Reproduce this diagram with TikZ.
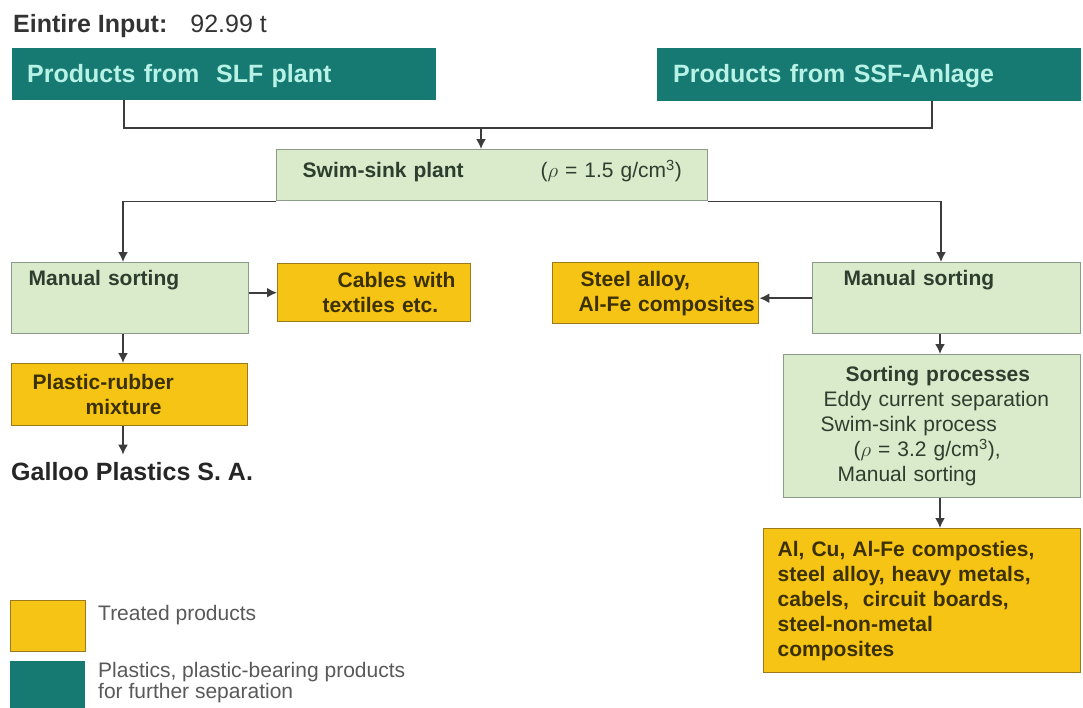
\documentclass[tikz,border=0pt]{standalone}
\usepackage{fontspec}
\setmainfont{Liberation Sans}
\usetikzlibrary{arrows.meta}
\definecolor{tealbg}{HTML}{177A72}
\definecolor{tealtext}{HTML}{B8F2E6}
\definecolor{treated}{HTML}{F6C414}
\definecolor{treatedline}{HTML}{9A7A1A}
\definecolor{treatedtext}{HTML}{3B3000}
\definecolor{sortbg}{HTML}{D9EBCB}
\definecolor{sortline}{HTML}{8C9C8A}
\definecolor{sorttext}{HTML}{2E3E2E}
\definecolor{flow}{HTML}{3C3C3C}

\begin{document}
\begin{tikzpicture}[
    x=1pt, y=-1pt,
    >={Latex[length=10pt,width=10pt]},
        every node/.style={font=\fontsize{21}{25}\selectfont},
    titlefont/.style={font=\fontsize{25}{30}\selectfont\bfseries},
    srcbox/.style={fill=tealbg, text=tealtext, titlefont, anchor=north west, inner ysep=0pt, align=left},
    sortbox/.style={draw=sortline, line width=1.4pt, fill=sortbg, text=sorttext, anchor=north west, align=left},
    prodbox/.style={draw=treatedline, line width=1.4pt, fill=treated, text=treatedtext, font=\fontsize{21}{25}\selectfont\bfseries, anchor=north west, align=left},
    flowline/.style={draw=flow, line width=1.8pt}
]
    \fill[white] (0,0) rectangle (1083,707);
    \useasboundingbox (0,0) rectangle (1083,707);

    % Input and source plants
        \node[anchor=base west, inner sep=0pt, text=black!80, font=\fontsize{25}{30}\selectfont] (input) at (13,32) {\textbf{Eintire Input:}\hspace{23pt}92.99 t};
        \node[srcbox, text width=394pt, inner xsep=15pt, text height=34pt, text depth=18pt] (slf) at (12,48) {Products from~ SLF plant};
        \node[srcbox, text width=392pt, inner xsep=16pt, text height=34pt, text depth=19pt] (ssf) at (657,48) {Products from SSF-Anlage};

        % Swim-sink and sorting stages
        \node[sortbox, text width=395pt, inner xsep=18pt, inner ysep=0pt, text height=28pt, text depth=23pt] (swim) at (276,149) {\hspace*{8pt}\textbf{Swim-sink plant}\hspace{77pt}\mbox{($\rho$ = 1.5 g/cm\textsuperscript{3})}};
        \node[sortbox, text width=203pt, inner xsep=17pt, inner ysep=0pt, text height=23pt, text depth=48pt] (msleft) at (11,262) {\textbf{Manual sorting}};
        \node[sortbox, text width=206pt, inner xsep=31pt, inner ysep=0pt, text height=23pt, text depth=48pt] (msright) at (812,262) {\textbf{Manual sorting}};
        \node[sortbox, text width=277pt, inner xsep=10pt, minimum height=143pt] (sortproc) at (783,354) {\hspace*{52pt}\textbf{Sorting processes}\\ \hspace*{30pt}Eddy current separation\\ \hspace*{27pt}Swim-sink process\\ \hspace*{60pt}($\rho$ = 3.2 g/cm\textsuperscript{3}),\\ \hspace*{44pt}Manual sorting};

        % Treated products
        \node[prodbox, text width=177pt, inner xsep=8pt, minimum height=58pt] (cables) at (277,263) {\hspace*{52pt}Cables with\\ \hspace*{37pt}textiles etc.};
        \node[prodbox, text width=200pt, inner xsep=3pt, minimum height=61pt] (steel) at (552,262) {\hspace*{25pt}Steel alloy,\\ \hspace*{23pt}Al-Fe composites};
        \node[prodbox, text width=194pt, inner xsep=21pt, minimum height=62pt] (mix) at (11,363) {Plastic-rubber\\ \hspace*{53pt}mixture};
        \node[prodbox, text width=289pt, inner xsep=14pt, minimum height=144pt] (metals) at (763,528) {Al, Cu, Al-Fe composties,\\ steel alloy, heavy metals,\\ cabels,~ circuit boards,\\ steel-non-metal\\ composites};
        \node[anchor=base west, inner xsep=0pt, inner ysep=7pt, titlefont, text=black!85] (galloo) at (11,480) {Galloo Plastics S. A.};

        % Legend
        \node[draw=treatedline, line width=1.4pt, fill=treated, minimum width=75pt, minimum height=51pt, anchor=north west, inner sep=0pt] (legtreated) at (10,600) {};
        \node[fill=tealbg, minimum width=75pt, minimum height=50pt, anchor=north west, inner sep=0pt] (legplastic) at (10,661) {};
        \node[anchor=base west, inner sep=0pt, text=black!65] (legtreatedtxt) at (98,620) {Treated products};
        \node[anchor=north west, inner sep=0pt, text=black!65, align=left, font=\fontsize{21}{21}\selectfont] (legplastictxt) at (98,662) {Plastics, plastic-bearing products\\ for further separation};

        % Arrows
        \coordinate (merge) at (481,128);
        \draw[flowline] ([xshift=112pt]slf.south west) |- (merge) -| ([xshift=275pt]ssf.south west);
        \draw[flowline,->] (merge) -- (merge |- swim.north);
        \draw[flowline,->] (swim.south west) -| ([xshift=112pt]msleft.north west);
        \draw[flowline,->] (swim.south east) -| ([xshift=129pt]msright.north west);
        \draw[flowline,->] (msleft.east |- cables.west) -- (cables.west);
        \draw[flowline,->] (msright.west) -- (steel.east |- msright.west);
        \draw[flowline,->] ([xshift=112pt]msleft.south west) -- ([xshift=112pt]mix.north west);
        \draw[flowline,->] ([xshift=112pt]mix.south west) -- ([xshift=112pt]galloo.north west);
        \draw[flowline,->] ([xshift=128pt]msright.south west) -- ([xshift=157pt]sortproc.north west);
        \draw[flowline,->] ([xshift=157pt]sortproc.south west) -- ([xshift=177pt]metals.north west);
\end{tikzpicture}
\end{document}
